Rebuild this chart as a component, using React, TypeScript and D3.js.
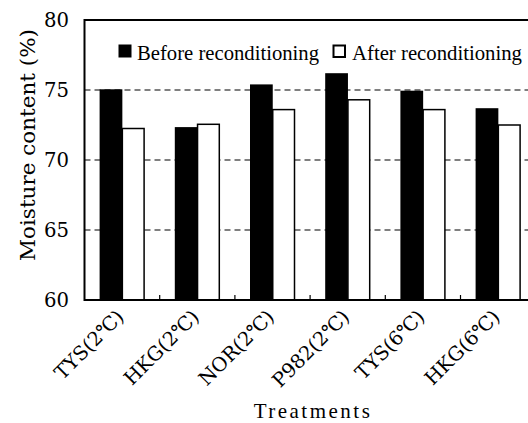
import React from "react";
import * as d3 from "d3";

const categories = ["TYS(2℃)", "HKG(2℃)", "NOR(2℃)", "P982(2℃)", "TYS(6℃)", "HKG(6℃)"];
const seriesNames = ["Before reconditioning", "After reconditioning"];
const before = [75.05, 72.35, 75.4, 76.2, 74.95, 73.7];
const after = [72.25, 72.55, 73.6, 74.3, 73.6, 72.5];
const yTicks = [60, 65, 70, 75, 80];
const gridValues = [65, 70, 75];

const W = 528;
const H = 423;
const FONT = "DejaVu Serif, Liberation Serif, serif";
const FONT2 = "Liberation Serif, DejaVu Serif, serif";

export default function App() {
  const left = 84.5;
  const step = 75.2;
  const right = left + step * categories.length;
  const top = 20;
  const bottom = 300;

  const x = d3.scaleBand<string>().domain(categories).range([left, right]).padding(0);
  const y = d3.scaleLinear().domain([60, 80]).range([bottom, top]);
  const x1 = d3.scaleBand<string>().domain(seriesNames).range([-22.5, 23]).padding(0);

  const seriesVals = [before, after];

  return (
    <svg
      width={W}
      height={H}
      style={{ position: "absolute", left: 0, top: 0, background: "#fff", fontFamily: FONT }}
    >
      <rect x={0} y={0} width={W} height={H} fill="#fff" />
      {gridValues.map((v) => (
        <line
          key={v}
          x1={left}
          x2={right}
          y1={y(v)}
          y2={y(v)}
          stroke="#000"
          strokeWidth={1.2}
          strokeDasharray="6,4"
        />
      ))}
      {categories.map((c, i) => {
        const cx = (x(c) as number) + x.bandwidth() / 2;
        return (
          <g key={c}>
            {seriesNames.map((s, j) => {
              const v = seriesVals[j][i];
              const bx = cx + (x1(s) as number);
              const bw = x1.bandwidth();
              return j === 0 ? (
                <rect key={s} x={bx} y={y(v)} width={bw} height={bottom - y(v)} fill="#000" />
              ) : (
                <rect
                  key={s}
                  x={bx}
                  y={y(v)}
                  width={bw - 1}
                  height={bottom - y(v)}
                  fill="#fff"
                  stroke="#000"
                  strokeWidth={1.5}
                />
              );
            })}
          </g>
        );
      })}
      {categories.slice(1).map((c) => (
        <line
          key={c}
          x1={x(c) as number}
          x2={x(c) as number}
          y1={bottom}
          y2={bottom - 5}
          stroke="#000"
          strokeWidth={1.2}
        />
      ))}
      <path
        d={`M${right},${top}H${left}V${bottom}H${right}V${top}`}
        fill="none"
        stroke="#000"
        strokeWidth={2}
      />
      {yTicks.map((t) => (
        <text
          key={t}
          x={69}
          y={y(t) + 7}
          textAnchor="end"
          fontSize={20}
          textLength={25}
          lengthAdjust="spacingAndGlyphs"
        >
          {t}
        </text>
      ))}
      <text
        transform={`translate(35,145) rotate(-90)`}
        textAnchor="middle"
        fontSize={20}
        textLength={232}
        lengthAdjust="spacingAndGlyphs"
      >
        Moisture content (%)
      </text>
      {categories.map((c) => {
        const cx = (x(c) as number) + x.bandwidth() / 2;
        return (
          <text
            key={c}
            transform={`translate(${cx + 3},${bottom + 18}) rotate(-45)`}
            textAnchor="end"
            fontSize={19.5}
          >
            {c}
          </text>
        );
      })}
      <text
        x={313}
        y={418}
        textAnchor="middle"
        fontSize={21}
        fontFamily={FONT2}
        letterSpacing={2.5}
      >
        Treatments
      </text>
      <rect x={118.5} y={44.5} width={13} height={13} fill="#000" />
      <text x={137} y={60} fontSize={20.5} fontFamily={FONT2} textLength={182} lengthAdjust="spacingAndGlyphs">
        {seriesNames[0]}
      </text>
      <rect x={333.5} y={45.5} width={11.5} height={11.5} fill="#fff" stroke="#000" strokeWidth={2} />
      <text x={352} y={60} fontSize={20.5} fontFamily={FONT2} textLength={170} lengthAdjust="spacingAndGlyphs">
        {seriesNames[1]}
      </text>
    </svg>
  );
}
